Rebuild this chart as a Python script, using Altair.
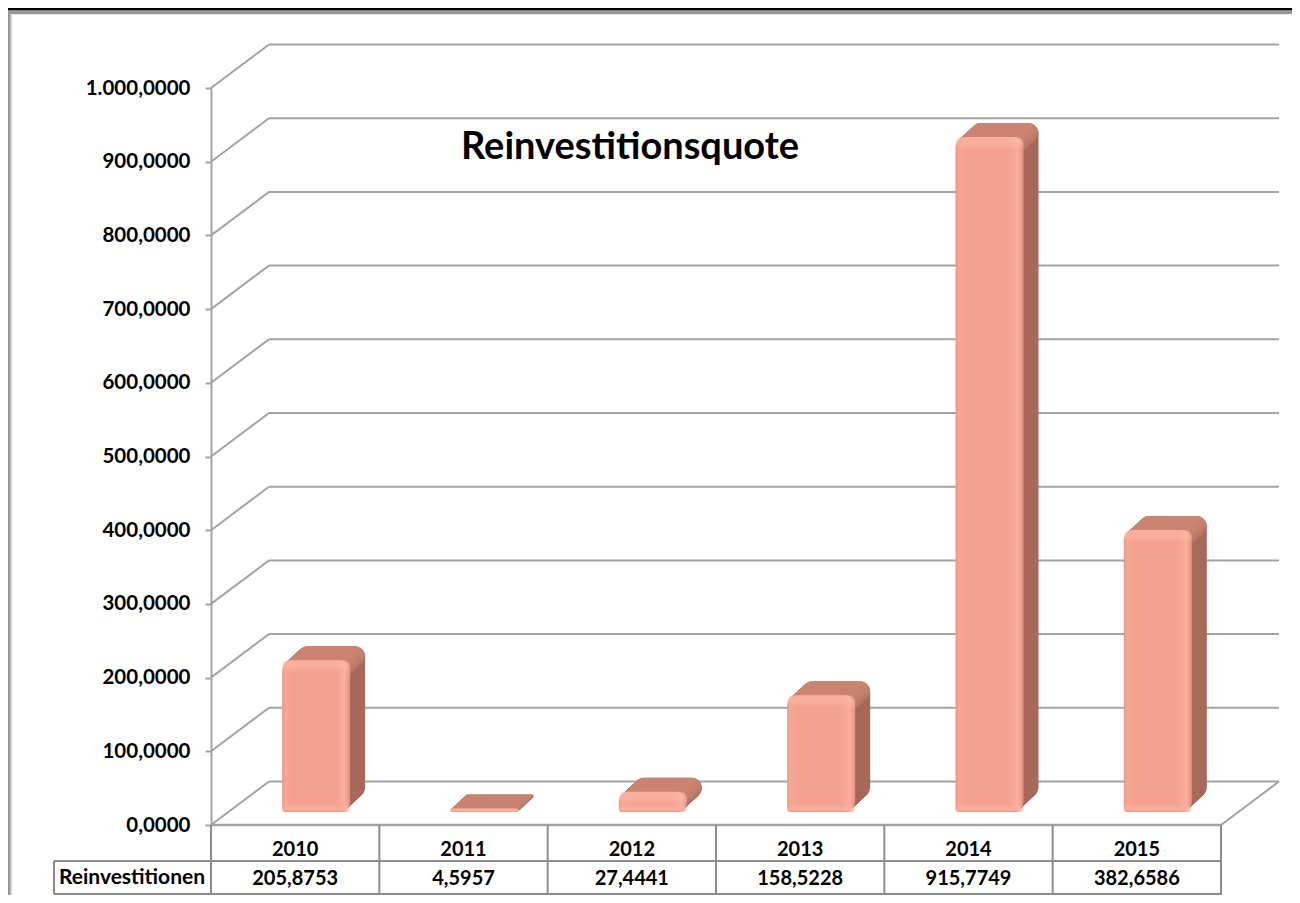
import altair as alt
import pandas as pd

years = ["2010", "2011", "2012", "2013", "2014", "2015"]
values = [205.8753, 4.5957, 27.4441, 158.5228, 915.7749, 382.6586]
value_labels = ["205,8753", "4,5957", "27,4441", "158,5228", "915,7749", "382,6586"]
ticks = [0, 100, 200, 300, 400, 500, 600, 700, 800, 900, 1000]
row_label = "Reinvestitionen"
title_text = "Reinvestitionsquote"

W, H = 1010, 737
CAT = W / len(years)
UX = 1 / CAT          # category units per pixel
UY = 1000 / H         # value units per pixel
LEFT, TOP = 203, 80   # plot origin in the svg
TOTAL_W, TOTAL_H = 1284, 887
FONT = "Lato"
GRID = "#a3a3a3"

xs = alt.Scale(domain=[0, len(years)], nice=False, zero=False)
ys = alt.Scale(domain=[0, 1000], nice=False, zero=False)
y_axis = alt.Axis(
    values=ticks, grid=False, title=None, domainColor=GRID, domainWidth=2,
    tickColor=GRID, tickWidth=2, tickSize=6, labelFont=FONT, labelFontSize=20.5,
    labelFontWeight="bold", labelColor="black", labelPadding=15,
    labelExpr="replace(replace(replace(format(datum.value, ',.4f'), /,/g, '#'), '.', ','), '#', '.')",
)
X = lambda f: alt.X(f, type="quantitative", scale=xs, axis=None)
X2 = lambda f: alt.X2(f)
Y = lambda f: alt.Y(f, type="quantitative", scale=ys, axis=y_axis)
Y2 = lambda f: alt.Y2(f)

# geometry of the pseudo 3D box
WALL_X, WALL_Y = 58 * UX, 43.5 * UY
BAR_SHIFT, BAR_W = 21 * UX, 68 * UX
BAR_BASE = 13 * UY
DEPTH_STEPS, DEPTH_X, DEPTH_Y = 15, 15 * UX, 14 * UY
CAP = 20 * UY
BAND = 13 * UY


def vgrad(stops):
    return alt.LinearGradient(gradient="linear", x1=0, x2=0, y1=0, y2=1,
                              stops=[alt.GradientStop(color=c, offset=o) for o, c in stops])


def hgrad(stops):
    return alt.LinearGradient(gradient="linear", x1=0, x2=1, y1=0, y2=0,
                              stops=[alt.GradientStop(color=c, offset=o) for o, c in stops])


one = alt.Data(values=[{"a": 1}])


def px_rule(x1, x2, y1, y2, color, w):
    enc = dict(x=alt.value(x1 - 211), y=alt.value(y1 - 88))
    if x2 != x1:
        enc["x2"] = alt.value(x2 - 211)
    if y2 != y1:
        enc["y2"] = alt.value(y2 - 88)
    return alt.Chart(one).mark_rule(color=color, strokeWidth=w).encode(**enc)


grid = pd.DataFrame({"v": ticks})
grid["vb"] = grid.v + WALL_Y
grid["x0"] = 0.0
grid["xw"] = WALL_X
grid["xr"] = len(years) + WALL_X

axis_layer = alt.Chart(grid).mark_rule(color=GRID, strokeWidth=2).encode(
    x=X("xw"), x2=X2("xr"), y=Y("vb"))
diag = alt.Chart(grid).mark_rule(color=GRID, strokeWidth=2).encode(
    x=X("x0"), x2=X2("xw"), y=Y("v"), y2=Y2("vb"))

floor = pd.DataFrame({"x": [len(years)], "xb": [len(years) + WALL_X], "x0": [0], "y": [0], "yb": [WALL_Y]})
floor_front = alt.Chart(floor).mark_rule(color=GRID, strokeWidth=2.5).encode(
    x=X("x0"), x2=X2("x"), y=Y("y"))
floor_right = alt.Chart(floor).mark_rule(color=GRID, strokeWidth=2).encode(
    x=X("x"), x2=X2("xb"), y=Y("y"), y2=Y2("yb"))

# bar faces derived from the values
rows, front = [], []
for i, (yr, v) in enumerate(zip(years, values)):
    x0 = i + 0.5 + BAR_SHIFT - BAR_W / 2
    y0, y1 = BAR_BASE, BAR_BASE + v
    front.append(dict(x0=x0, x1=x0 + BAR_W, y0=y0, y1=y1,
                      bt=y1, bb=y1 - min(BAND, v),
                      lb=y0, lt=y0 + min(BAND * 0.6, v)))
    for k in range(DEPTH_STEPS, 0, -1):
        f = k / DEPTH_STEPS
        rows.append(dict(x0=x0 + f * DEPTH_X, x1=x0 + BAR_W + f * DEPTH_X,
                         y0=y0 + f * DEPTH_Y, y1=y1 + f * DEPTH_Y,
                         c0=y1 + f * DEPTH_Y - min(CAP, v)))
rows = pd.DataFrame(rows)
front = pd.DataFrame(front)

RADII = dict(cornerRadiusTopLeft=11, cornerRadiusTopRight=11,
             cornerRadiusBottomRight=11, cornerRadiusBottomLeft=3)

side = alt.Chart(rows).mark_rect(color="#a7695b", **RADII).encode(
    x=X("x0"), x2=X2("x1"), y=Y("y0"), y2=Y2("y1"))
caps = alt.Chart(rows).mark_rect(
    color=vgrad([(0, "#cb8472"), (0.45, "#c07c6b"), (1, "#a7695b")]), **RADII
).encode(x=X("x0"), x2=X2("x1"), y=Y("c0"), y2=Y2("y1"))
face = alt.Chart(front).mark_rect(
    color=hgrad([(0, "#ec9683"), (0.05, "#f6a794"), (0.13, "#f4a28f"),
                 (0.8, "#f4a28f"), (0.92, "#fbaf9f"), (1, "#e58f7c")]), **RADII
).encode(x=X("x0"), x2=X2("x1"), y=Y("y0"), y2=Y2("y1"))
shine_top = alt.Chart(front).mark_rect(
    color=vgrad([(0, "rgba(255,185,170,0.55)"), (0.5, "rgba(255,185,170,0.5)"), (1, "rgba(255,180,165,0)")]),
    cornerRadiusTopLeft=11, cornerRadiusTopRight=11,
).encode(x=X("x0"), x2=X2("x1"), y=Y("bb"), y2=Y2("bt"))
shine_low = alt.Chart(front).mark_rect(
    color=vgrad([(0, "rgba(255,180,165,0)"), (0.7, "rgba(255,178,162,0.7)"), (1, "rgba(235,145,125,0.8)")]),
    cornerRadiusBottomRight=11, cornerRadiusBottomLeft=3,
).encode(x=X("x0"), x2=X2("x1"), y=Y("lt"), y2=Y2("lb"))

# data table under the plot
table_df = pd.DataFrame({"c": [i + 0.5 for i in range(len(years))], "year": years, "val": value_labels})
def cell(field, y):
    return alt.Chart(table_df).mark_text(font=FONT, fontSize=20, fontWeight="bold", color="black",
                                         baseline="middle").encode(
        x=X("c"), y=alt.value(y - 88), text=alt.Text(f"{field}:N"))

LINE = "#8c8c8c"
table_lines = [px_rule(54, 1222, 861, 861, LINE, 2), px_rule(54, 1222, 894, 894, LINE, 2),
               px_rule(54, 54, 861, 894, LINE, 2)]
vb = pd.DataFrame({"x": list(range(len(years) + 1))})
table_v = alt.Chart(vb).mark_rule(color=LINE, strokeWidth=2).encode(
    x=X("x"), y=alt.value(825 - 88), y2=alt.value(894 - 88))

row_text = alt.Chart(pd.DataFrame({"t": [row_label]})).mark_text(
    font=FONT, fontSize=21, fontWeight="bold", color="black", baseline="middle", align="center"
).encode(x=alt.value(132 - 211), y=alt.value(878 - 88), text="t:N")
title = alt.Chart(pd.DataFrame({"t": [title_text]})).mark_text(
    font=FONT, fontSize=38, fontWeight="bold", color="black", baseline="middle", align="center"
).encode(x=alt.value(630 - 211), y=alt.value(148 - 88), text="t:N")

frame = [
    px_rule(8, 1292, 9, 9, "black", 3),
    px_rule(8, 1292, 12.5, 12.5, "#979797", 3.5),
    px_rule(9, 9, 11, 895, "#979797", 3.5),
    px_rule(11.5, 11.5, 14, 895, "#dddddd", 1.5),
]

chart = alt.layer(
    axis_layer, diag, floor_front, floor_right, side, caps, face, shine_top, shine_low,
    table_v, *table_lines, cell("year", 850), cell("val", 879), row_text, title, *frame,
).properties(
    width=W, height=H,
    autosize=alt.AutoSizeParams(type="none"),
    padding={"left": LEFT, "top": TOP, "right": TOTAL_W - LEFT - W, "bottom": TOTAL_H - TOP - H},
    background="white",
).configure_view(stroke=None)

chart.save("out.html", embed_options={"renderer": "svg", "actions": False})
